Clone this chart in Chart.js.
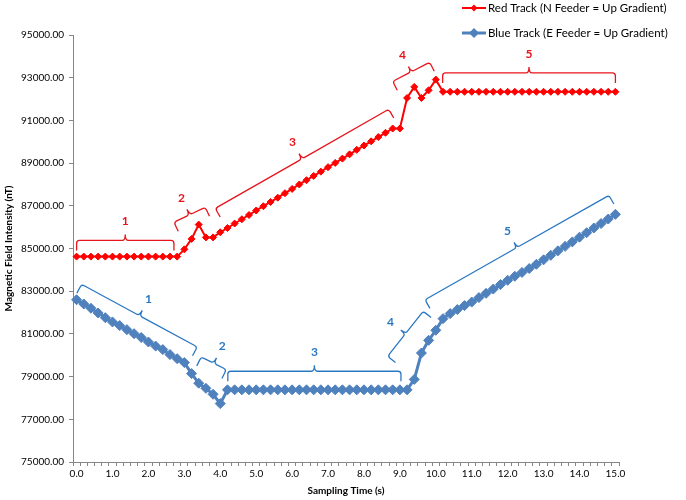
<!DOCTYPE html>
<html>
<head>
<meta charset="utf-8">
<title>Magnetic Field Intensity vs Sampling Time</title>
<script src="https://cdn.jsdelivr.net/npm/chart.js@4.4.1/dist/chart.umd.min.js"></script>
<style>
  html, body { margin: 0; padding: 0; background: #fff; }
  #wrap { width: 686px; height: 500px; }
</style>
</head>
<body>
<div id="wrap"><canvas id="magChart" width="686" height="500"></canvas></div>
<script>
// sampling time (s), one reading every 0.2 s
const timeLabels = [
  '0.0','0.2','0.4','0.6','0.8','1.0','1.2','1.4','1.6','1.8',
  '2.0','2.2','2.4','2.6','2.8','3.0','3.2','3.4','3.6','3.8',
  '4.0','4.2','4.4','4.6','4.8','5.0','5.2','5.4','5.6','5.8',
  '6.0','6.2','6.4','6.6','6.8','7.0','7.2','7.4','7.6','7.8',
  '8.0','8.2','8.4','8.6','8.8','9.0','9.2','9.4','9.6','9.8',
  '10.0','10.2','10.4','10.6','10.8','11.0','11.2','11.4','11.6','11.8',
  '12.0','12.2','12.4','12.6','12.8','13.0','13.2','13.4','13.6','13.8',
  '14.0','14.2','14.4','14.6','14.8','15.0'
];

// Red Track (N Feeder = Up Gradient), nT
const redTrack = [
  84620, 84620, 84620, 84620, 84620, 84620, 84620, 84620, 84620, 84620,
  84620, 84620, 84620, 84620, 84620, 84960, 85450, 86120, 85520, 85520,
  85760, 85960, 86170, 86370, 86570, 86780, 86980, 87180, 87380, 87590,
  87790, 88000, 88200, 88400, 88600, 88810, 89010, 89210, 89410, 89620,
  89820, 90020, 90220, 90420, 90620, 90620, 92050, 92570, 92050, 92410,
  92910, 92340, 92340, 92340, 92340, 92340, 92340, 92340, 92340, 92340,
  92340, 92340, 92340, 92340, 92340, 92340, 92340, 92340, 92340, 92340,
  92340, 92340, 92340, 92340, 92340, 92340
];

// Blue Track (E Feeder = Up Gradient), nT
const blueTrack = [
  82600, 82400, 82200, 81980, 81760, 81560, 81390, 81200, 81010, 80830,
  80620, 80430, 80265, 80030, 79840, 79655, 79140, 78690, 78450, 78170,
  77735, 78380, 78380, 78380, 78380, 78380, 78380, 78380, 78380, 78380,
  78380, 78380, 78380, 78380, 78380, 78380, 78380, 78380, 78380, 78380,
  78380, 78380, 78380, 78380, 78380, 78380, 78380, 78870, 80105, 80700,
  81170, 81715, 81950, 82140, 82325, 82490, 82700, 82900, 83100, 83310,
  83510, 83700, 83880, 84060, 84260, 84470, 84680, 84890, 85100, 85310,
  85530, 85740, 85960, 86170, 86380, 86600
];

const yTicks = { min: 75000, max: 95000, step: 2000 };

// segment braces: [time (s), nT] at each end of the brace
const redBraces = [
  { label: '1', from: [0.0, 85380], to: [2.71, 85380] },
  { label: '2', from: [2.71, 86230], to: [3.58, 86930] },
  { label: '3', from: [3.86, 86880], to: [8.69, 91520] },
  { label: '4', from: [8.80, 92830], to: [9.83, 93720] },
  { label: '5', from: [10.19, 93225], to: [15.0, 93225] }
];
const blueBraces = [
  { label: '1', from: [0.14, 83320], to: [3.36, 80390] },
  { label: '2', from: [3.47, 79920], to: [4.17, 79330] },
  { label: '3', from: [4.21, 79250], to: [9.03, 79250] },
  { label: '4', from: [8.66, 79950], to: [9.65, 82060] },
  { label: '5', from: [9.70, 82600], to: [14.82, 87490] }
];

const RED = '#ff0000';
const BLUE = '#4f81bd';
const RED_NOTE = '#e8141c';
const BLUE_NOTE = '#2a78c2';
const AXIS_GREY = '#868686';
const FONT = 'Lato, "Open Sans", sans-serif';

function drawBrace(ctx, a, b, color, text) {
  const dx = b.x - a.x, dy = b.y - a.y;
  const len = Math.hypot(dx, dy);
  const u = { x: dx / len, y: dy / len };
  const n = { x: -u.y, y: u.x };   // hooks point toward the data
  const m = { x: (a.x + b.x) / 2, y: (a.y + b.y) / 2 };
  const h = 10, k = 6, r = 3;

  ctx.save();
  ctx.strokeStyle = color;
  ctx.lineWidth = 1.3;
  ctx.beginPath();
  ctx.moveTo(a.x + n.x * h, a.y + n.y * h);
  ctx.lineTo(a.x + n.x * r, a.y + n.y * r);
  ctx.quadraticCurveTo(a.x, a.y, a.x + u.x * r, a.y + u.y * r);
  ctx.lineTo(m.x - u.x * r, m.y - u.y * r);
  ctx.quadraticCurveTo(m.x, m.y, m.x - n.x * k, m.y - n.y * k);
  ctx.moveTo(m.x - n.x * k, m.y - n.y * k);
  ctx.quadraticCurveTo(m.x, m.y, m.x + u.x * r, m.y + u.y * r);
  ctx.lineTo(b.x - u.x * r, b.y - u.y * r);
  ctx.quadraticCurveTo(b.x, b.y, b.x + n.x * r, b.y + n.y * r);
  ctx.lineTo(b.x + n.x * h, b.y + n.y * h);
  ctx.stroke();

  ctx.fillStyle = color;
  ctx.font = 'bold 12px ' + FONT;
  ctx.textAlign = 'center';
  ctx.textBaseline = 'middle';
  ctx.fillText(text, m.x - n.x * 19, m.y - n.y * 19);
  ctx.restore();
}

const bracePlugin = {
  id: 'braces',
  afterDatasetsDraw(chart) {
    const ctx = chart.ctx;
    const xs = chart.scales.x, ys = chart.scales.y;
    const toPx = p => ({ x: xs.getPixelForValue(p[0] / 0.2), y: ys.getPixelForValue(p[1]) });
    redBraces.forEach(b => drawBrace(ctx, toPx(b.from), toPx(b.to), RED_NOTE, b.label));
    blueBraces.forEach(b => drawBrace(ctx, toPx(b.from), toPx(b.to), BLUE_NOTE, b.label));
  }
};

// stacked legend in the top right corner
const legendPlugin = {
  id: 'stackLegend',
  afterDraw(chart) {
    const ctx = chart.ctx;
    const left = 462, rowY = [8, 33];
    chart.data.datasets.forEach((ds, i) => {
      const y = rowY[i];
      ctx.save();
      ctx.strokeStyle = ds.borderColor;
      ctx.lineWidth = ds.borderWidth;
      ctx.beginPath();
      ctx.moveTo(left, y);
      ctx.lineTo(left + 24, y);
      ctx.stroke();
      const r = ds.pointRadius;
      ctx.fillStyle = ds.pointBackgroundColor;
      ctx.beginPath();
      ctx.moveTo(left + 12, y - r);
      ctx.lineTo(left + 12 + r, y);
      ctx.lineTo(left + 12, y + r);
      ctx.lineTo(left + 12 - r, y);
      ctx.closePath();
      ctx.fill();
      ctx.fillStyle = '#000';
      ctx.font = '11.5px ' + FONT;
      ctx.textAlign = 'left';
      ctx.textBaseline = 'middle';
      ctx.fillText(ds.label, left + 26, y);
      ctx.restore();
    });
  }
};

const ctx = document.getElementById('magChart').getContext('2d');
new Chart(ctx, {
  type: 'line',
  data: {
    labels: timeLabels,
    datasets: [{
      label: 'Red Track (N Feeder = Up Gradient)',
      data: redTrack,
      borderColor: RED,
      borderWidth: 2,
      pointStyle: 'rectRot',
      pointRadius: 3.5,
      pointBorderWidth: 1,
      pointBackgroundColor: RED,
      pointBorderColor: RED,
      tension: 0
    }, {
      label: 'Blue Track (E Feeder = Up Gradient)',
      data: blueTrack,
      borderColor: BLUE,
      borderWidth: 3,
      pointStyle: 'rectRot',
      pointRadius: 5,
      pointBorderWidth: 1,
      pointBackgroundColor: BLUE,
      pointBorderColor: BLUE,
      tension: 0
    }]
  },
  options: {
    responsive: false,
    animation: false,
    layout: { padding: { top: 35, right: 67, bottom: 0, left: 0 } },
    plugins: {
      legend: { display: false },
      tooltip: { enabled: false }
    },
    scales: {
      x: {
        type: 'category',
        offset: true,
        afterFit(scale) { scale.height = 38; },
        border: { color: AXIS_GREY, width: 1 },
        grid: { offset: true, drawOnChartArea: false, drawTicks: true, tickLength: 4, color: AXIS_GREY },
        ticks: {
          autoSkip: false,
          maxRotation: 0,
          minRotation: 0,
          padding: 2,
          color: '#000',
          font: { family: FONT, size: 10 },
          callback: function (val, idx) {
            return idx % 5 === 0 ? this.getLabelForValue(val) : '';
          }
        },
        title: {
          display: true,
          text: 'Sampling Time (s)',
          color: '#000',
          font: { family: FONT, size: 10, weight: 'bold' },
          padding: { top: 0, bottom: 3 }
        }
      },
      y: {
        min: yTicks.min,
        max: yTicks.max,
        afterFit(scale) { scale.width = 73; },
        border: { color: AXIS_GREY, width: 1 },
        grid: { drawOnChartArea: false, drawTicks: true, tickLength: 4, color: AXIS_GREY },
        ticks: {
          stepSize: yTicks.step,
          padding: 5,
          color: '#000',
          font: { family: FONT, size: 10 },
          callback: v => v.toFixed(2)
        },
        title: {
          display: true,
          text: 'Magnetic Field Intensity (nT)',
          color: '#000',
          font: { family: FONT, size: 10, weight: 'bold' },
          padding: { top: 3, bottom: 0 }
        }
      }
    }
  },
  plugins: [bracePlugin, legendPlugin]
});
</script>
</body>
</html>
